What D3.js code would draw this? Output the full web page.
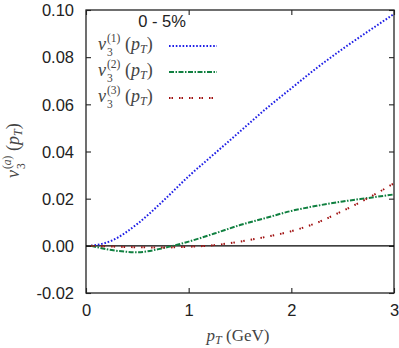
<!DOCTYPE html>
<html>
<head>
<meta charset="utf-8">
<script src="https://cdn.jsdelivr.net/npm/d3@7"></script>
<style>
  body { margin: 0; background: #fff; }
  .tick-label { font-family: "Liberation Sans", Arial, sans-serif; font-size: 16.5px; fill: #222; }
  .math { font-family: "Liberation Serif", "Times New Roman", serif; fill: #444; }
</style>
</head>
<body>
<div id="chart"></div>
<script>
// values
var pt = [0.05, 0.25, 0.5, 0.75, 1.0, 1.25, 1.5, 1.75, 2.0, 2.25, 2.5, 2.75, 3.0];
var v31 = [0, 0.0022, 0.0093, 0.019, 0.0295, 0.039, 0.0485, 0.058, 0.0668, 0.0755, 0.0835, 0.091, 0.0983];
var v32 = [0, -0.0018, -0.0027, -0.001, 0.0018, 0.0052, 0.0088, 0.0118, 0.0148, 0.017, 0.0188, 0.0203, 0.0218];
var v33 = [0, -0.0003, -0.0006, -0.0007, -0.0004, 0.0003, 0.0018, 0.0038, 0.0062, 0.0098, 0.0148, 0.0203, 0.0265];
var xTicks = [0, 1, 2, 3];
var yTicks = [-0.02, 0, 0.02, 0.04, 0.06, 0.08, 0.10];
var seriesNames = ["1", "2", "3"];
var seriesColors = ["#1f1fe6", "#108040", "#a01010"];
var seriesDash = ["1.6,1.8", "5,1.5,1.5,1.5", "1.5,1,1.5,6"];

var svgWidth = 399;
var svgHeight = 348;
var margin = { top: 10, right: 5, bottom: 55, left: 86 };
var width = svgWidth - margin.left - margin.right;
var height = svgHeight - margin.top - margin.bottom;

var svg = d3.select("#chart").append("svg")
  .attr("width", svgWidth)
  .attr("height", svgHeight);

var chartGroup = svg.append("g")
  .attr("transform", `translate(${margin.left}, ${margin.top})`);

var x = d3.scaleLinear().domain([0, 3]).range([0, width]);
var y = d3.scaleLinear().domain([-0.02, 0.10]).range([height, 0]);

// frame
chartGroup.append("rect")
  .attr("width", width)
  .attr("height", height)
  .attr("fill", "none")
  .attr("stroke", "#222")
  .attr("stroke-width", 1.3);

// inward ticks on all four sides
function tickLines(axis) {
  return function(g) {
    g.call(axis);
    g.select(".domain").remove();
    g.selectAll("line").attr("stroke", "#222").attr("stroke-width", 1.1);
  };
}
// plain hyphen for negatives, like the original
var yFormat = d => d3.format(".2f")(d).replace("\u2212", "-");

chartGroup.append("g")
  .attr("transform", `translate(0, ${height})`)
  .call(tickLines(d3.axisBottom(x).tickValues(xTicks).tickSizeInner(-5).tickSizeOuter(0).tickPadding(8).tickFormat(d3.format("d"))))
  .selectAll("text").attr("class", "tick-label").attr("dy", "0.9em");
chartGroup.append("g")
  .call(tickLines(d3.axisTop(x).tickValues(xTicks).tickSizeInner(-5).tickSizeOuter(0).tickFormat("")));
chartGroup.append("g")
  .call(tickLines(d3.axisLeft(y).tickValues(yTicks).tickSizeInner(-5).tickSizeOuter(0).tickPadding(12).tickFormat(yFormat)))
  .selectAll("text").attr("class", "tick-label").attr("dy", "0.35em");
chartGroup.append("g")
  .attr("transform", `translate(${width}, 0)`)
  .call(tickLines(d3.axisRight(y).tickValues(yTicks).tickSizeInner(-5).tickSizeOuter(0).tickFormat("")));

// zero line
chartGroup.append("line")
  .attr("x1", 0).attr("x2", width)
  .attr("y1", y(0)).attr("y2", y(0))
  .attr("stroke", "#000")
  .attr("stroke-width", 1.3);

// curves
var line = d3.line()
  .x((d, i) => x(pt[i]))
  .y(d => y(d))
  .curve(d3.curveMonotoneX);

[v31, v32, v33].forEach(function(vals, i) {
  chartGroup.append("path")
    .datum(vals)
    .attr("d", line)
    .attr("fill", "none")
    .attr("stroke", seriesColors[i])
    .attr("stroke-width", 2)
    .attr("stroke-dasharray", seriesDash[i]);
});

// math label v_3^{(sup)}(p_T) as one text element, sup and sub stacked
function mathLabel(g, x0, y0, sup, italicSup) {
  var t = g.append("text").attr("class", "math").attr("x", x0).attr("y", y0).attr("font-size", 18);
  t.append("tspan").attr("font-style", "italic").text("v");
  t.append("tspan").attr("x", x0 + 9).attr("dy", -8).attr("font-size", 11.5).text("(");
  t.append("tspan").attr("font-size", 11.5).attr("font-style", italicSup ? "italic" : "normal").text(sup);
  t.append("tspan").attr("font-size", 11.5).text(")");
  t.append("tspan").attr("x", x0 + 9).attr("dy", 14).attr("font-size", 11.5).text("3");
  t.append("tspan").attr("x", x0 + 27).attr("dy", -6).text("(");
  t.append("tspan").attr("font-style", "italic").text("p");
  t.append("tspan").attr("font-style", "italic").attr("font-size", 12).attr("dy", 3).text("T");
  t.append("tspan").attr("dy", -3).text(")");
}

// legend
var legend = svg.append("g");
legend.append("text")
  .attr("class", "tick-label")
  .attr("x", 162).attr("y", 27)
  .attr("text-anchor", "middle")
  .attr("font-size", 15.5)
  .text("0 - 5%");

var legendY = [46, 72, 98];
seriesNames.forEach(function(name, i) {
  mathLabel(legend, 98, legendY[i] + 4, name, false);
  legend.append("line")
    .attr("x1", 169).attr("x2", 217)
    .attr("y1", legendY[i]).attr("y2", legendY[i])
    .attr("stroke", seriesColors[i])
    .attr("stroke-width", 2)
    .attr("stroke-dasharray", seriesDash[i]);
});

// axis titles
var xt = svg.append("text").attr("class", "math")
  .attr("x", 238).attr("y", 341)
  .attr("text-anchor", "middle")
  .attr("font-size", 17);
xt.append("tspan").attr("font-style", "italic").text("p");
xt.append("tspan").attr("font-style", "italic").attr("font-size", 12).attr("dy", 3).text("T");
xt.append("tspan").attr("dy", -3).text(" (GeV)");

var yl = svg.append("g")
  .attr("transform", "translate(19, 178) rotate(-90)");
mathLabel(yl, 0, 0, "a", true);
</script>
</body>
</html>
